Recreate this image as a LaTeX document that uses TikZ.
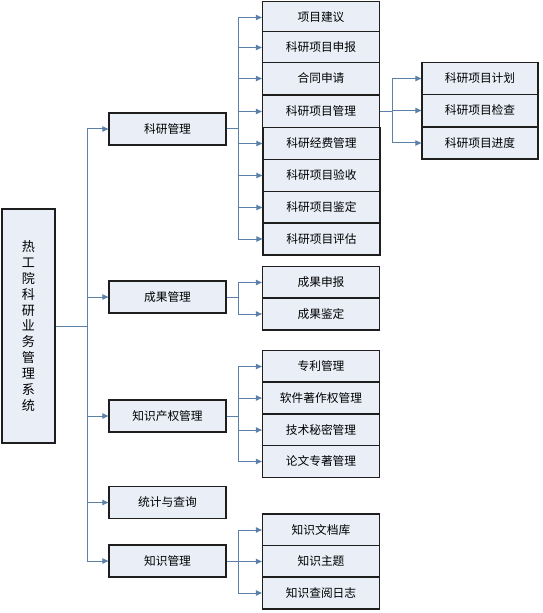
\documentclass[tikz,border=0pt]{standalone}
\usepackage{fontspec}
\setmainfont{Noto Sans CJK SC}
\usetikzlibrary{arrows.meta}
\definecolor{lnblue}{HTML}{5B80AA}
\definecolor{boxfill}{HTML}{E9EEF7}
\definecolor{boxline}{HTML}{1E1E1E}
\tikzset{
  box/.style={draw=boxline, line width=0.9pt, fill=boxfill, inner sep=0pt,
    font=\fontsize{8.8pt}{10pt}\selectfont},
  lvone/.style={box, minimum width=87.75pt, minimum height=24pt},
  lvtwo/.style={box, minimum width=87.75pt, minimum height=24pt},
  lvthree/.style={box, minimum width=87pt, minimum height=24pt},
  conn/.style={draw=lnblue, line width=0.75pt},
  arr/.style={conn, -{Triangle[length=4.5pt,width=4pt]}},
}
\begin{document}
\begin{tikzpicture}[x=0.75pt,y=-0.75pt]
\useasboundingbox (0,0) rectangle (542,613);
% root
\node[box, minimum width=39.75pt, minimum height=175.5pt, align=center,
  font=\fontsize{9.8pt}{11.9pt}\selectfont] (root) at (28.5,326)
  {热\\工\\院\\科\\研\\业\\务\\管\\理\\系\\统};
% level 1
\node[lvone] (a) at (167.5,129) {科研管理};
\node[lvone] (b) at (167.5,297) {成果管理};
\node[lvone] (c) at (167.5,416) {知识产权管理};
\node[lvone] (d) at (167.5,502.5) {统计与查询};
\node[lvone] (e) at (167.5,561) {知识管理};
% level 2: 科研管理
\node[lvtwo] (a1) at (321,17.5) {项目建议};
\node[lvtwo] (a2) at (321,47.5) {科研项目申报};
\node[lvtwo] (a3) at (321,78.5) {合同申请};
\node[lvtwo] (a4) at (321,111.5) {科研项目管理};
\node[lvtwo] (a5) at (321.5,143.5) {科研经费管理};
\node[lvtwo] (a6) at (321.5,175.5) {科研项目验收};
\node[lvtwo] (a7) at (321.5,207.5) {科研项目鉴定};
\node[lvtwo] (a8) at (321.5,239) {科研项目评估};
% level 3
\node[lvthree] (p1) at (480,78.5) {科研项目计划};
\node[lvthree] (p2) at (480,110.5) {科研项目检查};
\node[lvthree] (p3) at (480,143) {科研项目进度};
% 成果管理
\node[lvtwo] (b1) at (321,282.5) {成果申报};
\node[lvtwo] (b2) at (321,314) {成果鉴定};
% 知识产权管理
\node[lvtwo] (c1) at (321,366.5) {专利管理};
\node[lvtwo] (c2) at (321,398) {软件著作权管理};
\node[lvtwo] (c3) at (321,430) {技术秘密管理};
\node[lvtwo] (c4) at (321,461.5) {论文专著管理};
% 知识管理
\node[lvtwo] (e1) at (321,530) {知识文档库};
\node[lvtwo] (e2) at (321,561.5) {知识主题};
\node[lvtwo] (e3) at (321,593) {知识查阅日志};
% junction coordinates
\coordinate (t0) at (87,326);
\coordinate (ta) at (238,129);
\coordinate (tb) at (238,297);
\coordinate (tc) at (238,416);
\coordinate (te) at (238,561);
\coordinate (tp) at (392,111.5);
% connectors
\draw[conn] (root.east) -- (t0);
\foreach \n in {a,b,c,d,e} \draw[arr] (t0) |- (\n.west);
\draw[conn] (a.east) -- (ta);
\foreach \n in {a1,a2,a3,a4,a5,a6,a7,a8} \draw[arr] (ta) |- (\n.west);
\draw[conn] (a4.east) -- (tp);
\foreach \n in {p1,p2,p3} \draw[arr] (tp) |- (\n.west);
\draw[conn] (b.east) -- (tb);
\foreach \n in {b1,b2} \draw[arr] (tb) |- (\n.west);
\draw[conn] (c.east) -- (tc);
\foreach \n in {c1,c2,c3,c4} \draw[arr] (tc) |- (\n.west);
\draw[conn] (e.east) -- (te);
\foreach \n in {e1,e2,e3} \draw[arr] (te) |- (\n.west);
\end{tikzpicture}
\end{document}
